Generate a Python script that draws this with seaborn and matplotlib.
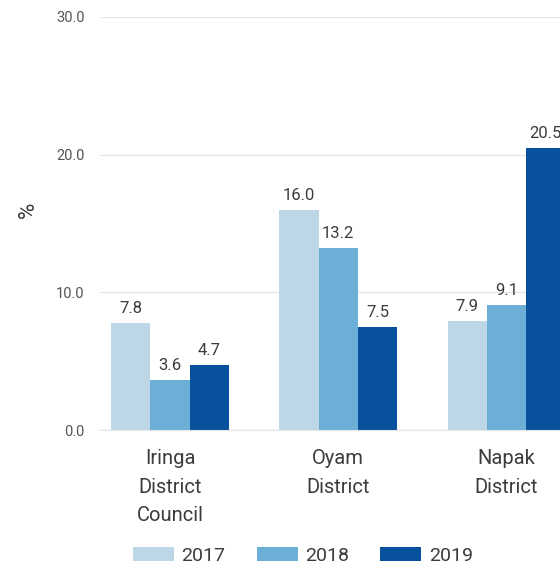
import matplotlib
matplotlib.use("Agg")
import matplotlib.pyplot as plt
import seaborn as sns
import pandas as pd

# data
districts = ["Iringa\nDistrict\nCouncil", "Oyam\nDistrict", "Napak\nDistrict"]
years = ["2017", "2018", "2019"]
v2017 = [7.8, 16.0, 7.9]
v2018 = [3.6, 13.2, 9.1]
v2019 = [4.7, 7.5, 20.5]
colors = ["#bdd7e7", "#6baed6", "#08519c"]

rows = []
for yr, vals in zip(years, [v2017, v2018, v2019]):
    for d, v in zip(districts, vals):
        rows.append({"district": d, "year": yr, "value": v})
df = pd.DataFrame(rows)

sns.set_style("white")
plt.rcParams["font.family"] = ["Roboto", "DejaVu Sans"]

txt = "#3c3c3c"
fig = plt.figure(figsize=(5.6, 5.65), dpi=100)
ax = fig.add_axes([100 / 560, (565 - 430) / 565, 476.5 / 560, (430 - 17) / 565])

sns.barplot(data=df, x="district", y="value", hue="year", palette=colors,
            width=0.7, saturation=1, linewidth=0, ax=ax, legend=True)

ax.set_ylim(0, 30)
ax.set_xlim(-0.417, 2.417)
ax.set_yticks([0, 10, 20, 30])
ax.set_yticklabels(["0.0", "10.0", "20.0", "30.0"], fontsize=10.5, color="#555555")
ax.tick_params(axis="y", length=4, color="#999999", pad=7)
ax.tick_params(axis="x", length=0, labelsize=14.5, pad=14, labelcolor=txt)
for t in ax.get_xticklabels():
    t.set_linespacing(1.62)
ax.set_xlabel("")
ax.set_ylabel("%", fontsize=16, color=txt)
ax.yaxis.set_label_coords(-61 / 476.5, (430 - 210) / 413)
ax.yaxis.grid(True, color="#e6e6e6", linewidth=1)
ax.set_axisbelow(True)
for s in ["top", "right", "left"]:
    ax.spines[s].set_visible(False)
ax.spines["bottom"].set_color("#e6e6e6")

for c in ax.containers:
    ax.bar_label(c, fmt="%.1f", padding=5, fontsize=12, color=txt)

handles, labels = ax.get_legend_handles_labels()
ax.legend(handles, labels, loc="center", bbox_to_anchor=(303 / 560, 9 / 565),
          bbox_transform=fig.transFigure, ncol=3, frameon=False, fontsize=14,
          handlelength=2.1, handleheight=0.75, columnspacing=1.6, handletextpad=0.4,
          labelcolor=txt)

fig.savefig("out.png", dpi=100)
